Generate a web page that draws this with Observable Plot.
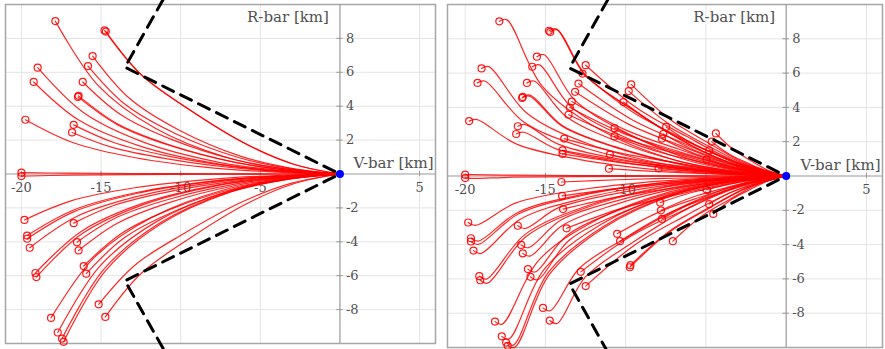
<!DOCTYPE html>
<html>
<head>
<meta charset="utf-8">
<script src="https://cdn.jsdelivr.net/npm/d3@7"></script>
<script src="https://cdn.jsdelivr.net/npm/@observablehq/plot@0.6"></script>
<style>
  html, body { margin: 0; padding: 0; background: #fff; }
  #wrap { display: flex; gap: 2px; width: 885px; height: 349px; }
  #wrap svg { display: block; }
</style>
</head>
<body>
<div id="wrap"></div>
<script>
// Axis ticks (km)
const xTicks = [-20, -15, -10, -5, 5];
const yTicks = [-8, -6, -4, -2, 2, 4, 6, 8];

// Docking target at the origin of the LVLH frame
const target = [0, 0];

// Approach corridor boundary (dashed)
const corridorUpper = [[-11.1, 10.3], [-13.5, 6.3], [0, 0]];
const corridorLower = [[-11.1, -10.3], [-13.5, -6.3], [0, 0]];

// Direct approach arcs: start point, then waypoints along the arc (V-bar, R-bar pairs)
const directPaths = [
  [-17.87, 9.02, -15.19, 5.23, -11.62, 2.71, -7.15, 0.99, -3.57, 0.32],
  [-14.78, 8.47, -12.56, 5.93, -9.61, 3.90, -5.91, 1.78, -2.96, 0.59],
  [-14.70, 8.40, -12.50, 5.88, -9.56, 3.86, -5.88, 1.76, -2.94, 0.59],
  [-15.53, 6.96, -13.20, 4.45, -10.09, 2.58, -6.21, 1.04, -3.11, 0.35],
  [-15.82, 6.37, -13.45, 4.08, -10.28, 2.36, -6.33, 0.96, -3.16, 0.32],
  [-18.98, 6.27, -16.13, 3.64, -12.34, 1.88, -7.59, 0.69, -3.80, 0.22],
  [-19.23, 5.43, -16.35, 3.15, -12.50, 1.63, -7.69, 0.60, -3.85, 0.19],
  [-16.15, 5.43, -13.73, 3.48, -10.50, 2.01, -6.46, 0.81, -3.23, 0.27],
  [-16.41, 4.61, -13.95, 2.95, -10.67, 1.71, -6.56, 0.69, -3.28, 0.23],
  [-16.45, 4.55, -13.98, 2.91, -10.69, 1.68, -6.58, 0.68, -3.29, 0.23],
  [-19.75, 3.20, -16.79, 1.86, -12.84, 0.96, -7.90, 0.35, -3.95, 0.11],
  [-16.72, 2.90, -14.21, 1.86, -10.87, 1.07, -6.69, 0.44, -3.34, 0.15],
  [-16.82, 2.45, -14.30, 1.57, -10.93, 0.91, -6.73, 0.37, -3.36, 0.12],
  [-20.00, 0.08, -17.00, 0.05, -13.00, 0.03, -8.00, 0.01, -4.00, 0.00],
  [-20.00, -0.12, -17.00, -0.07, -13.00, -0.04, -8.00, -0.01, -4.00, 0.00],
  [-19.81, -2.71, -16.84, -1.57, -12.88, -0.81, -7.92, -0.30, -3.96, -0.09],
  [-19.64, -3.63, -16.69, -2.11, -12.77, -1.09, -7.86, -0.40, -3.93, -0.13],
  [-19.64, -3.82, -16.69, -2.22, -12.77, -1.15, -7.86, -0.42, -3.93, -0.13],
  [-19.48, -4.35, -16.56, -2.52, -12.66, -1.31, -7.79, -0.48, -3.90, -0.15],
  [-16.72, -2.90, -14.21, -1.86, -10.87, -1.07, -6.69, -0.44, -3.34, -0.15],
  [-16.51, -4.02, -14.03, -2.57, -10.73, -1.49, -6.60, -0.60, -3.30, -0.20],
  [-16.41, -4.51, -13.95, -2.89, -10.67, -1.67, -6.56, -0.68, -3.28, -0.23],
  [-19.12, -5.84, -16.25, -3.39, -12.43, -1.75, -7.65, -0.64, -3.82, -0.20],
  [-19.06, -6.08, -16.20, -3.53, -12.39, -1.82, -7.62, -0.67, -3.81, -0.21],
  [-16.09, -5.43, -13.68, -3.48, -10.46, -2.01, -6.44, -0.81, -3.22, -0.27],
  [-15.93, -5.88, -13.54, -3.76, -10.35, -2.18, -6.37, -0.88, -3.19, -0.29],
  [-15.15, -7.69, -12.88, -5.38, -9.85, -3.54, -6.06, -1.61, -3.03, -0.54],
  [-14.73, -8.43, -12.52, -5.90, -9.57, -3.88, -5.89, -1.77, -2.95, -0.59],
  [-18.14, -8.49, -15.42, -4.92, -11.79, -2.55, -7.26, -0.93, -3.63, -0.30],
  [-17.72, -9.35, -15.06, -5.42, -11.52, -2.81, -7.09, -1.03, -3.54, -0.33],
  [-17.45, -9.71, -14.83, -5.63, -11.34, -2.91, -6.98, -1.07, -3.49, -0.34],
  [-17.35, -9.90, -14.75, -5.74, -11.28, -2.97, -6.94, -1.09, -3.47, -0.35]
];

// Initial drift right after the first burn (one point per arc above)
const driftPoints = [
  [-17.42, 9.12], [-14.33, 8.58], [-14.25, 8.52], [-15.08, 7.07], [-15.37, 6.48],
  [-18.53, 6.38], [-18.78, 5.54], [-15.70, 5.54], [-15.96, 4.72], [-16.00, 4.66],
  [-19.30, 3.30], [-16.27, 3.00], [-16.37, 2.55], [-19.55, 0.08], [-19.55, -0.14],
  [-19.36, -2.88], [-19.19, -3.80], [-19.19, -3.99], [-19.03, -4.52], [-16.27, -3.06],
  [-16.06, -4.18], [-15.96, -4.67], [-18.67, -6.01], [-18.61, -6.25], [-15.64, -5.60],
  [-15.48, -6.05], [-14.70, -7.86], [-14.28, -8.60], [-17.69, -8.64], [-17.27, -9.50],
  [-17.00, -9.86], [-16.90, -9.98]
];

// Re-planned arcs: correction burn point, then waypoints towards the target
const correctionPaths = [
  [-12.49, 6.46, -9.37, 4.01, -6.25, 2.33, -3.12, 0.84],
  [-12.69, 5.97, -9.52, 3.70, -6.35, 2.15, -3.17, 0.78],
  [-12.94, 5.39, -9.71, 3.34, -6.47, 1.94, -3.24, 0.70],
  [-13.15, 4.91, -9.86, 3.04, -6.58, 1.77, -3.29, 0.64],
  [-13.36, 4.34, -10.02, 2.69, -6.68, 1.56, -3.34, 0.56],
  [-13.48, 3.99, -10.11, 2.47, -6.74, 1.44, -3.37, 0.52],
  [-13.56, 3.57, -10.17, 2.21, -6.78, 1.29, -3.39, 0.46],
  [-13.83, 2.18, -10.37, 1.35, -6.92, 0.78, -3.46, 0.28],
  [-13.93, 1.49, -10.45, 0.92, -6.97, 0.54, -3.48, 0.19],
  [-13.93, 1.29, -10.45, 0.80, -6.97, 0.46, -3.48, 0.17],
  [-9.66, 5.34, -7.25, 3.31, -4.83, 1.92, -2.42, 0.69],
  [-9.81, 4.95, -7.36, 3.07, -4.91, 1.78, -2.45, 0.64],
  [-10.14, 4.31, -7.61, 2.67, -5.07, 1.55, -2.54, 0.56],
  [-10.69, 2.79, -8.02, 1.73, -5.35, 1.00, -2.67, 0.36],
  [-10.70, 2.31, -8.03, 1.43, -5.35, 0.83, -2.68, 0.30],
  [-10.98, 1.25, -8.24, 0.78, -5.49, 0.45, -2.75, 0.16],
  [-11.04, 0.43, -8.28, 0.27, -5.52, 0.15, -2.76, 0.06],
  [-7.48, 2.86, -5.61, 1.77, -3.74, 1.03, -1.87, 0.37],
  [-7.66, 2.45, -5.75, 1.52, -3.83, 0.88, -1.92, 0.32],
  [-7.74, 2.18, -5.81, 1.35, -3.87, 0.78, -1.94, 0.28],
  [-7.95, 0.45, -5.96, 0.28, -3.98, 0.16, -1.99, 0.06],
  [-4.38, 2.48, -3.29, 1.54, -2.19, 0.89, -1.10, 0.32],
  [-4.64, 2.00, -3.48, 1.24, -2.32, 0.72, -1.16, 0.26],
  [-4.80, 1.50, -3.60, 0.93, -2.40, 0.54, -1.20, 0.20],
  [-4.95, 0.96, -3.71, 0.60, -2.48, 0.35, -1.24, 0.12],
  [-14.00, -0.35, -10.50, -0.22, -7.00, -0.13, -3.50, -0.05],
  [-13.96, -1.16, -10.47, -0.72, -6.98, -0.42, -3.49, -0.15],
  [-13.90, -1.93, -10.43, -1.20, -6.95, -0.69, -3.48, -0.25],
  [-13.68, -3.05, -10.26, -1.89, -6.84, -1.10, -3.42, -0.40],
  [-10.53, -3.37, -7.90, -2.09, -5.27, -1.21, -2.63, -0.44],
  [-10.35, -3.80, -7.76, -2.36, -5.18, -1.37, -2.59, -0.49],
  [-9.70, -5.20, -7.28, -3.22, -4.85, -1.87, -2.43, -0.68],
  [-9.74, -5.32, -7.31, -3.30, -4.87, -1.92, -2.44, -0.69],
  [-12.80, -5.59, -9.60, -3.47, -6.40, -2.01, -3.20, -0.73],
  [-12.49, -6.42, -9.37, -3.98, -6.25, -2.31, -3.12, -0.83],
  [-7.85, -1.55, -5.89, -0.96, -3.93, -0.56, -1.96, -0.20],
  [-7.80, -2.00, -5.85, -1.24, -3.90, -0.72, -1.95, -0.26],
  [-7.74, -2.50, -5.81, -1.55, -3.87, -0.90, -1.94, -0.33],
  [-7.06, -3.80, -5.30, -2.36, -3.53, -1.37, -1.77, -0.49],
  [-4.95, -0.80, -3.71, -0.50, -2.48, -0.29, -1.24, -0.10],
  [-4.80, -1.64, -3.60, -1.02, -2.40, -0.59, -1.20, -0.21],
  [-4.54, -2.21, -3.41, -1.37, -2.27, -0.80, -1.14, -0.29]
];

// Flatten [x0,y0,x1,y1,...] arcs into rows ending at the target
function arcRows(paths, prefix) {
  return paths.flatMap((p, i) => {
    const rows = [];
    for (let j = 0; j < p.length; j += 2) rows.push({id: prefix + i, x: p[j], y: p[j + 1]});
    rows.push({id: prefix + i, x: target[0], y: target[1]});
    return rows;
  });
}
const burnPoints = (paths) => paths.map((p) => ({x: p[0], y: p[1]}));

const serif = "'DejaVu Serif', 'Liberation Serif', serif";
const grey = "#505050";

function panel({width, marginRight, marginBottom, xDomain, arcs, burns}) {
  return Plot.plot({
    width, height: 349,
    marginLeft: 5, marginRight, marginTop: 4, marginBottom,
    x: {domain: xDomain, axis: null},
    y: {domain: [-10, 10], axis: null},
    style: {fontFamily: serif, background: "#fff"},
    marks: [
      Plot.gridX(xTicks, {stroke: "#e4e4e4", strokeOpacity: 1}),
      Plot.gridY(yTicks, {stroke: "#e4e4e4", strokeOpacity: 1}),
      Plot.frame({stroke: "#a6a6a6", strokeWidth: 1.5}),
      Plot.ruleY([0], {stroke: "#9a9a9a", strokeWidth: 1.2}),
      Plot.ruleX([0], {stroke: "#9a9a9a", strokeWidth: 1.2}),
      Plot.ruleY(yTicks, {y: (d) => d, x1: -0.2, x2: 0.2, stroke: "#9a9a9a"}),
      Plot.ruleX(xTicks, {x: (d) => d, y1: -0.15, y2: 0.15, stroke: "#9a9a9a"}),
      Plot.text(xTicks, {x: (d) => d, y: 0, text: (d) => String(d), dy: 14, fontSize: 13, fill: grey, fontFamily: serif}),
      Plot.text(yTicks, {x: 0, y: (d) => d, text: (d) => String(d), dx: 6, textAnchor: "start", fontSize: 13, fill: grey, fontFamily: serif}),
      Plot.text(["R-bar [km]"], {x: 0, y: 10, dx: -11, dy: 13, textAnchor: "end", fontSize: 15, fill: grey, fontFamily: serif}),
      Plot.text(["V-bar [km]"], {x: xDomain[1], y: 0, dx: -2, dy: -11, textAnchor: "end", fontSize: 15, fill: grey, fontFamily: serif}),
      Plot.line(arcs, {x: "x", y: "y", z: "id", curve: "catmull-rom", stroke: "#ff0000", strokeWidth: 1.2, strokeOpacity: 0.85}),
      Plot.dot(burns, {x: "x", y: "y", r: 3.5, stroke: "#ff0000", strokeWidth: 1.2, fill: "none", strokeOpacity: 0.9}),
      Plot.line(corridorUpper, {stroke: "#000", strokeWidth: 3, strokeDasharray: "12,8"}),
      Plot.line(corridorLower, {stroke: "#000", strokeWidth: 3, strokeDasharray: "12,8"}),
      Plot.dot([target], {r: 4, fill: "#0000ff", stroke: "none"})
    ]
  });
}

// Left: single-burn arcs
const leftArcs = arcRows(directPaths, "d");
const leftBurns = burnPoints(directPaths);

// Right: same starts with drift, plus re-planned arcs
const driftedPaths = directPaths.map((p, i) => [p[0], p[1], driftPoints[i][0], driftPoints[i][1], ...p.slice(2)]);
const rightArcs = arcRows(driftedPaths, "r").concat(arcRows(correctionPaths, "c"));
const rightBurns = burnPoints(directPaths).concat(burnPoints(correctionPaths));

const wrap = document.getElementById("wrap");
wrap.append(panel({width: 440, marginRight: 5, marginBottom: 6, xDomain: [-21, 6], arcs: leftArcs, burns: leftBurns}));
wrap.append(panel({width: 443, marginRight: 3, marginBottom: 2, xDomain: [-21.1, 6], arcs: rightArcs, burns: rightBurns}));
</script>
</body>
</html>
